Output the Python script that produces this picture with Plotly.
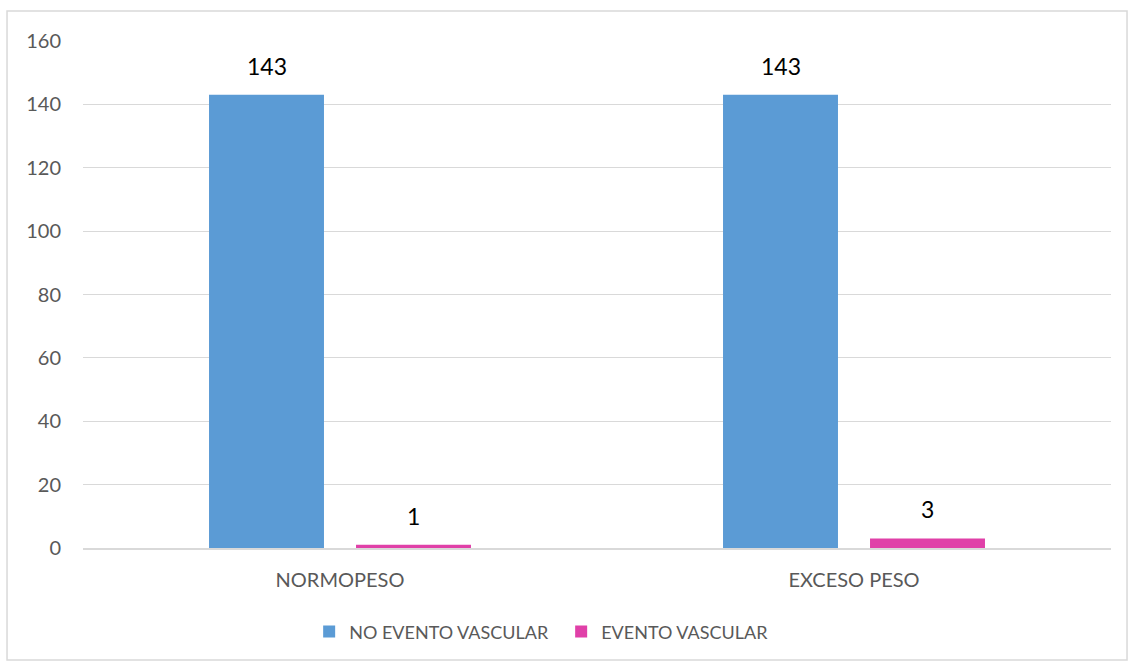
import plotly.graph_objects as go

categories = ["NORMOPESO", "EXCESO PESO"]
no_evento = [143, 143]
evento = [1, 3]
series_names = ["NO EVENTO VASCULAR", "EVENTO VASCULAR"]
colors = ["#5B9BD5", "#E040A8"]
y_ticks = [0, 20, 40, 60, 80, 100, 120, 140, 160]

FONT = "Lato"

fig = go.Figure()
for name, vals, col in zip(series_names, [no_evento, evento], colors):
    fig.add_trace(go.Bar(x=categories, y=vals, name=name, marker=dict(color=col, line=dict(width=0))))

# data labels
annotations = []
for i, vals in enumerate([no_evento, evento]):
    for j, v in enumerate(vals):
        annotations.append(dict(
            x=categories[j], y=v, xref="x", yref="y", text=str(v), showarrow=False,
            xshift=(-73.5 if i == 0 else 73.5), yanchor="bottom", yshift=13,
            font=dict(family=FONT, size=23, color="#000000")))

fig.update_layout(
    width=1128, height=664,
    margin=dict(l=83, r=17, t=40.5, b=116),
    paper_bgcolor="white", plot_bgcolor="white",
    barmode="group", bargap=0.428, bargroupgap=0.218,
    font=dict(family=FONT, size=20, color="#595959"),
    annotations=annotations,
    showlegend=True,
    legend=dict(orientation="h", x=0.220, y=-0.1655, xanchor="left", yanchor="middle",
                font=dict(family=FONT, size=18, color="#595959"), itemwidth=30,
                entrywidth=207, entrywidthmode="pixels",
                traceorder="normal"),
    shapes=[dict(type="rect", xref="paper", yref="paper",
                 x0=-0.0739, x1=1.0156, y0=-0.2207, y1=1.059,
                 line=dict(color="#D9D9D9", width=1.5), fillcolor="rgba(0,0,0,0)", layer="below")],
)
fig.update_xaxes(showgrid=False, showline=True, linecolor="#D9D9D9", linewidth=1.5,
                 ticks="", tickfont=dict(family=FONT, size=20, color="#595959"), ticklabelstandoff=13)
fig.update_yaxes(range=[0, 160], tickvals=y_ticks, showgrid=True, gridcolor="#D9D9D9", gridwidth=1.2,
                 zeroline=False, showline=False, ticks="",
                 tickfont=dict(family=FONT, size=20, color="#595959"), ticklabelstandoff=21)

fig.write_html("out.html")
